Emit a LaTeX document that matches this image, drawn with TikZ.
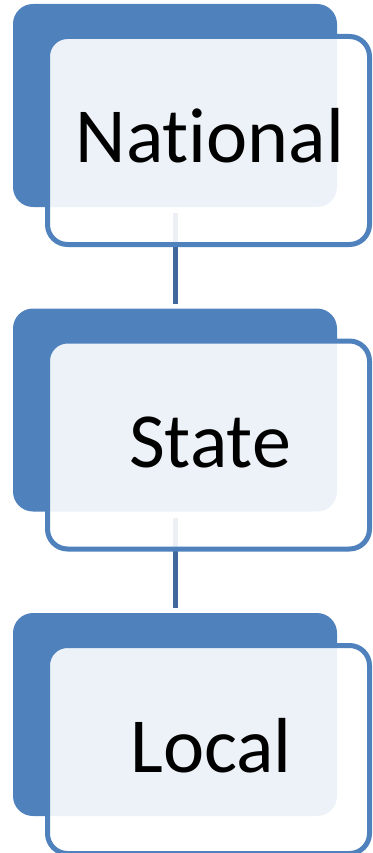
\documentclass[tikz,border=0pt]{standalone}
\usepackage{fontspec}
\setmainfont{Carlito}[Ligatures=NoCommon]
\definecolor{accent}{HTML}{4F81BD}
\definecolor{linkblue}{HTML}{41689A}
\tikzset{
  backcard/.style={rectangle, rounded corners=20pt, fill=accent, draw=none,
    outer sep=0pt, minimum width=324pt, minimum height=203pt, inner sep=0pt},
  frontcard/.style={rectangle, rounded corners=20pt, fill=white, fill opacity=0.9,
    draw=accent, draw opacity=1, line width=5pt, outer sep=0pt,
    minimum width=322pt, minimum height=208pt, inner sep=0pt},
  cardtext/.style={anchor=base, inner sep=0pt, text=black,
    font=\fontsize{78}{78}\selectfont},
  link/.style={draw=linkblue, line width=5pt, shorten <=6pt, shorten >=5pt}
}
\begin{document}
\begin{tikzpicture}[x=1pt,y=-1pt]
  \useasboundingbox (0,0) rectangle (372,853);
  % coloured cards at the back
  \node[backcard] (back1) at (175,105.5) {};
  \node[backcard] (back2) at (175,410) {};
  \node[backcard] (back3) at (175,714.5) {};
  % vertical links between levels
  \draw[link] (back1.south) -- (back2.north);
  \draw[link] (back2.south) -- (back3.north);
  % translucent framed cards in front
  \node[frontcard] (front1) at (208.5,140.5) {};
  \node[frontcard] (front2) at (208.5,445) {};
  \node[frontcard] (front3) at (208.5,749.5) {};
  % labels
  \node[cardtext] (label1) at (210,163) {National};
  \node[cardtext] (label2) at (210,467) {State};
  \node[cardtext] (label3) at (211,772) {Local};
\end{tikzpicture}
\end{document}
